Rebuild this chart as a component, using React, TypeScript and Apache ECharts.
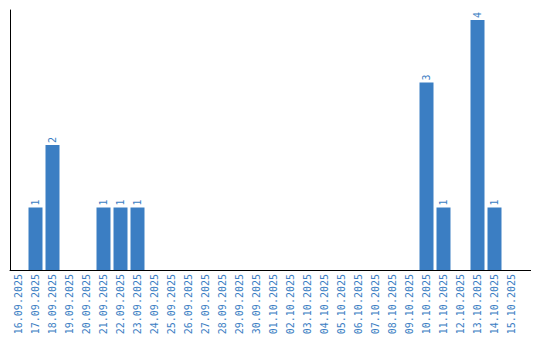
import React, { useEffect, useRef } from "react";
import * as echarts from "echarts";

const categories: string[] = [
  "16.09.2025", "17.09.2025", "18.09.2025", "19.09.2025", "20.09.2025",
  "21.09.2025", "22.09.2025", "23.09.2025", "24.09.2025", "25.09.2025",
  "26.09.2025", "27.09.2025", "28.09.2025", "29.09.2025", "30.09.2025",
  "01.10.2025", "02.10.2025", "03.10.2025", "04.10.2025", "05.10.2025",
  "06.10.2025", "07.10.2025", "08.10.2025", "09.10.2025", "10.10.2025",
  "11.10.2025", "12.10.2025", "13.10.2025", "14.10.2025", "15.10.2025",
];

const values: number[] = [
  0, 1, 2, 0, 0,
  1, 1, 1, 0, 0,
  0, 0, 0, 0, 0,
  0, 0, 0, 0, 0,
  0, 0, 0, 0, 3,
  1, 0, 4, 1, 0,
];

const BLUE = "#3b7ec3";

export default function App() {
  const ref = useRef<HTMLDivElement>(null);
  useEffect(() => {
    document.body.style.margin = "0";
    if (!ref.current) return;
    const chart = echarts.init(ref.current, undefined, { renderer: "svg" });
    chart.setOption({
      animation: false,
      backgroundColor: "#ffffff",
      grid: { left: 10, right: 20, top: 10, bottom: 70, containLabel: false },
      xAxis: {
        type: "category",
        data: categories,
        boundaryGap: true,
        axisLine: { show: true, lineStyle: { color: "#000000", width: 1 } },
        axisTick: { show: false },
        axisLabel: {
          interval: 0,
          rotate: 90,
          margin: 4,
          color: BLUE,
          fontFamily: "DejaVu Sans Mono",
          fontSize: 10,
        },
        splitLine: { show: false },
      },
      yAxis: {
        type: "value",
        min: 0,
        max: 4.16,
        axisLine: { show: true, lineStyle: { color: "#000000", width: 1 } },
        axisTick: { show: false },
        axisLabel: { show: false },
        splitLine: { show: false },
      },
      series: [
        {
          type: "bar",
          data: values.map((v) => (v === 0 ? null : v)),
          barWidth: 14,
          itemStyle: { color: BLUE },
          label: {
            show: true,
            position: "top",
            rotate: 90,
            align: "left",
            verticalAlign: "middle",
            distance: 2,
            color: BLUE,
            fontFamily: "DejaVu Sans Mono",
            fontSize: 10,
          },
        },
      ],
      graphic: [
        {
          type: "line",
          shape: { x1: 520, y1: 270.5, x2: 531, y2: 270.5 },
          style: { stroke: "#000000", lineWidth: 1 },
        },
      ],
    });
    return () => chart.dispose();
  }, []);
  return <div ref={ref} style={{ width: 540, height: 340 }} />;
}
